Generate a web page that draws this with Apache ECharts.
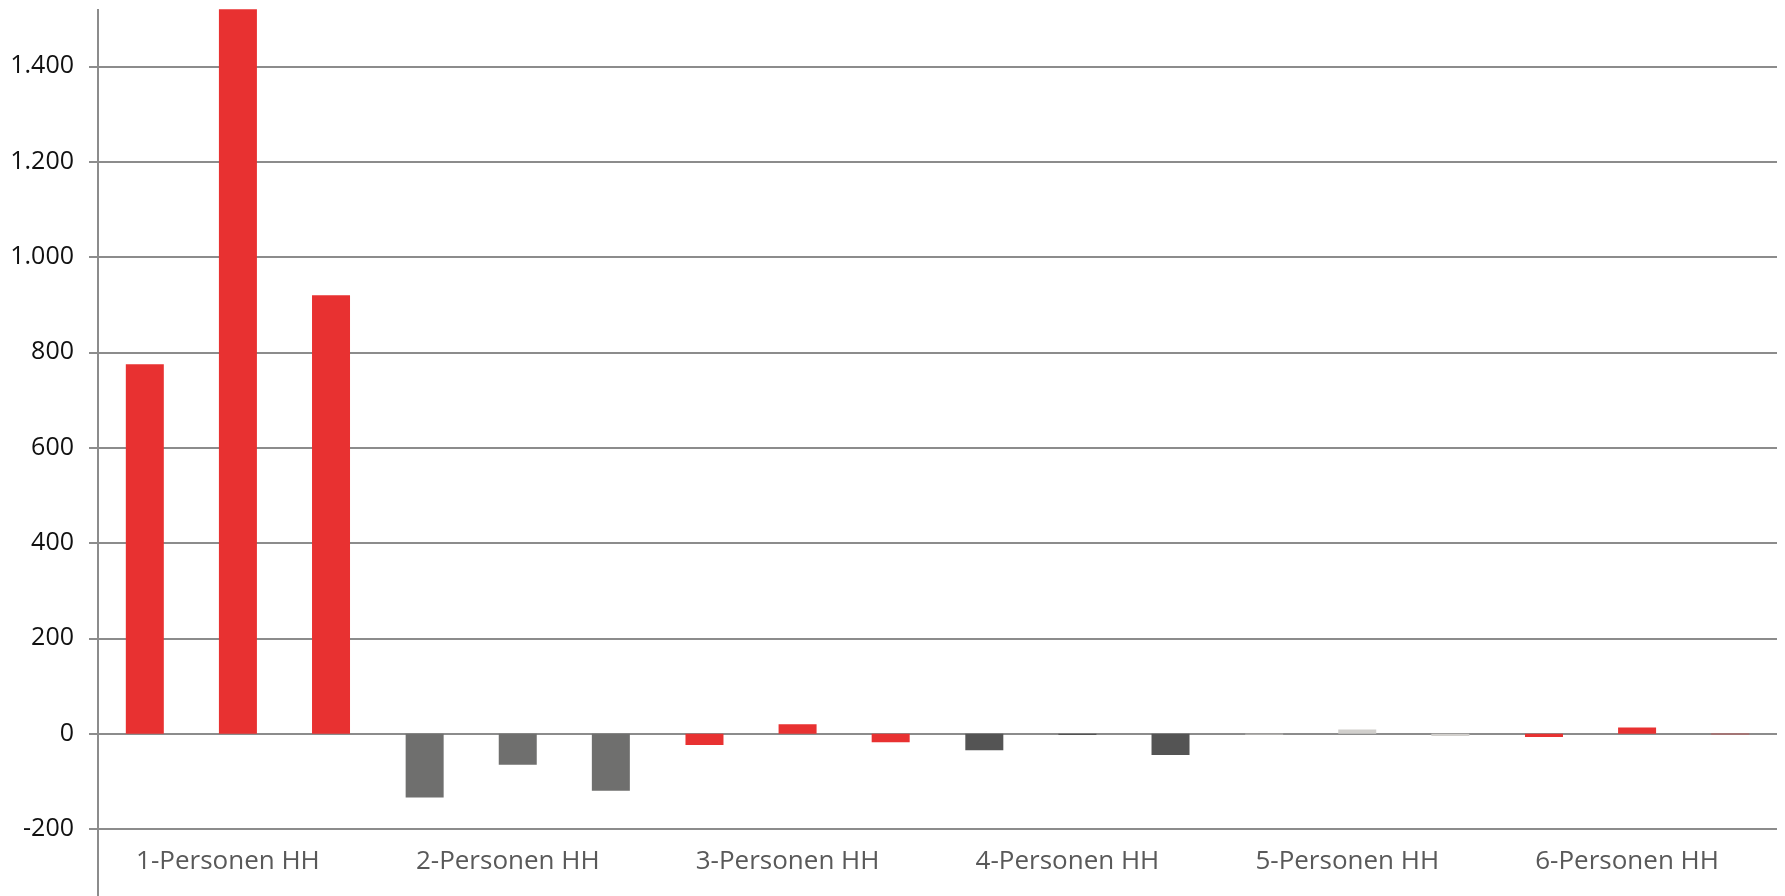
<!DOCTYPE html>
<html>
<head>
<meta charset="utf-8">
<script src="https://cdn.jsdelivr.net/npm/echarts@6/dist/echarts.min.js"></script>
<style>
  html, body { margin: 0; padding: 0; background: #fff; overflow: hidden; }
  /* Diagramm ist oben abgeschnitten: Zeichenflaeche ragt 29px ueber den Rand */
  #main { width: 1785px; height: 925px; margin-top: -29px; }
</style>
</head>
<body>
<div id="main"></div>
<script>
// Kategorien und Werte
var categories = ['1-Personen HH', '2-Personen HH', '3-Personen HH', '4-Personen HH', '5-Personen HH', '6-Personen HH'];
var serie1 = [775, -134, -24, -35, -2, -7];
var serie2 = [1520, -65, 20, -3, 9, 13];
var serie3 = [920, -120, -18, -45, -5, -1];
var catColors = ['#E83131', '#6F6F6E', '#E83131', '#545454', '#D1CFCC', '#E83131'];

var myChart = echarts.init(document.getElementById('main'));

function fmt(v) {
    var s = String(Math.abs(v));
    s = s.replace(/\B(?=(\d{3})+(?!\d))/g, '.');
    return (v < 0 ? '-' : '') + s;
}

function barSerie(data) {
    return {
        type: 'bar',
        data: data,
        barWidth: 38,
        barGap: '145%',
        itemStyle: {
            color: function (p) { return catColors[p.dataIndex]; }
        }
    };
}

var option = {
    animation: false,
    grid: { left: 98, right: 8, top: 0, bottom: 67, outerBoundsMode: 'none' },
    xAxis: {
        type: 'category',
        data: categories,
        axisLine: { show: false, onZero: false },
        axisTick: { show: false },
        axisLabel: {
            margin: 20,
            fontSize: 26,
            fontFamily: 'Open Sans',
            color: '#595959',
            padding: [0, 20, 0, 0]
        }
    },
    yAxis: {
        type: 'value',
        min: -200,
        max: 1600,
        interval: 200,
        axisLine: { show: false },
        axisTick: { show: true, length: 9, lineStyle: { color: '#8c8c8c', width: 2 } },
        axisLabel: {
            margin: 24,
            fontSize: 25,
            fontFamily: 'Open Sans',
            color: '#111',
            formatter: fmt
        },
        splitLine: { show: true, lineStyle: { color: '#8c8c8c', width: 2 } }
    },
    // senkrechte Achse: von knapp unter dem oberen Bildrand bis ganz nach unten
    graphic: [{
        type: 'line',
        z: 10,
        shape: { x1: 98, y1: 38, x2: 98, y2: 925 },
        style: { stroke: '#8c8c8c', lineWidth: 2 }
    }],
    series: [barSerie(serie1), barSerie(serie2), barSerie(serie3)]
};

myChart.setOption(option);
</script>
</body>
</html>
